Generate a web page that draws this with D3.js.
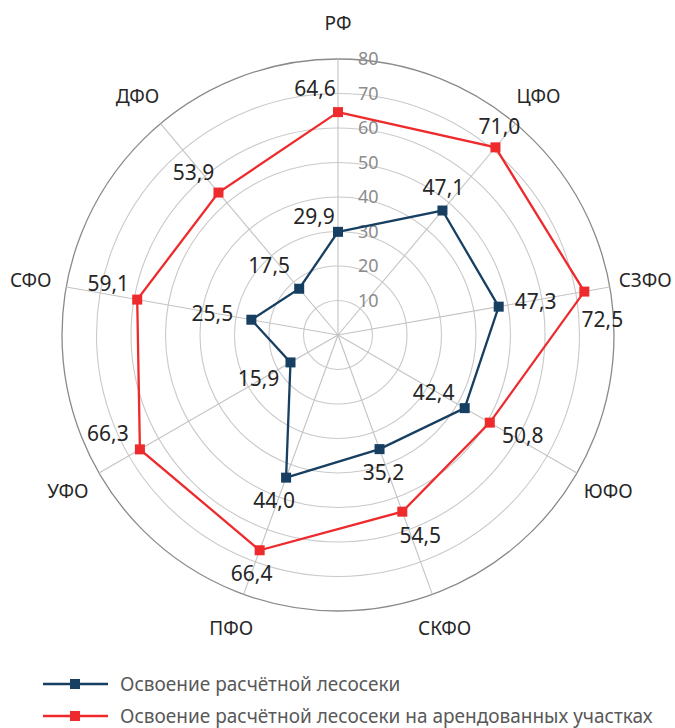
<!DOCTYPE html>
<html>
<head>
<meta charset="utf-8">
<script src="https://cdn.jsdelivr.net/npm/d3@7"></script>
<style>
  body { margin: 0; background: #fff; }
  svg { display: block; font-family: "Noto Sans", "Open Sans", sans-serif; }
</style>
</head>
<body>
<svg id="chart" width="675" height="728"></svg>
<script>
const regions = ['РФ', 'ЦФО', 'СЗФО', 'ЮФО', 'СКФО', 'ПФО', 'УФО', 'СФО', 'ДФО'];
const totalValues = [29.9, 47.1, 47.3, 42.4, 35.2, 44.0, 15.9, 25.5, 17.5];
const leasedValues = [64.6, 71.0, 72.5, 50.8, 54.5, 66.4, 66.3, 59.1, 53.9];
const ringTicks = [10, 20, 30, 40, 50, 60, 70, 80];
const seriesNames = ['Освоение расчётной лесосеки', 'Освоение расчётной лесосеки на арендованных участках'];

// label offsets from the marker, picked by eye
const totalLabelOffsets = [[-24, -15], [1, -23], [37, -5], [-31, -15], [4, 24], [-12, 23], [-32, 16], [-39, -6], [-30, -23]];
const leasedLabelOffsets = [[-23, -23], [4, -21], [18, 28], [33, 13], [18, 24], [-8, 23], [-32, -16], [-29, -16], [-25, -20]];

const cx = 338, cy = 335, radius = 276;
const blue = '#173f61', red = '#ee2a2d';

const svg = d3.select('#chart');
const g = svg.append('g').attr('transform', `translate(${cx}, ${cy})`);

const r = d3.scaleLinear().domain([0, 80]).range([0, radius]);
const angle = d3.scaleLinear().domain([0, regions.length]).range([0, 2 * Math.PI]);

const px = (i, v) => r(v) * Math.sin(angle(i));
const py = (i, v) => -r(v) * Math.cos(angle(i));

// rings
g.selectAll('.ring')
    .data(ringTicks)
    .join('circle')
    .attr('r', d => r(d))
    .attr('fill', 'none')
    .attr('stroke', d => d === 80 ? '#8a8a8a' : '#c9c9c9')
    .attr('stroke-width', d => d === 80 ? 1.3 : 1.1);

// spokes
g.selectAll('.spoke')
    .data(regions)
    .join('line')
    .attr('x1', 0).attr('y1', 0)
    .attr('x2', (d, i) => px(i, 80))
    .attr('y2', (d, i) => py(i, 80))
    .attr('stroke', '#c3c3c3')
    .attr('stroke-width', 1.1);

// ring tick labels
g.selectAll('.tick')
    .data(ringTicks)
    .join('text')
    .attr('x', 20)
    .attr('y', d => -r(d))
    .attr('dy', '0.35em')
    .attr('fill', '#8c8c8c')
    .style('font-size', '18px')
    .text(d => d);

// category labels
g.selectAll('.cat')
    .data(regions)
    .join('text')
    .attr('x', (d, i) => 312 * Math.sin(angle(i)))
    .attr('y', (d, i) => -312 * Math.cos(angle(i)))
    .attr('dy', '0.35em')
    .attr('text-anchor', 'middle')
    .attr('fill', '#262626')
    .style('font-size', '19px')
    .text(d => d);

const line = d3.lineRadial()
    .angle((d, i) => angle(i))
    .radius(d => r(d))
    .curve(d3.curveLinearClosed);

const series = [
    { values: leasedValues, color: red, offsets: leasedLabelOffsets },
    { values: totalValues, color: blue, offsets: totalLabelOffsets }
];

series.forEach(s => {
    g.append('path')
        .datum(s.values)
        .attr('d', line)
        .attr('fill', 'none')
        .attr('stroke', s.color)
        .attr('stroke-width', 2.3)
        .attr('stroke-linejoin', 'miter');

    g.selectAll(null)
        .data(s.values)
        .join('rect')
        .attr('x', (d, i) => px(i, d) - 5)
        .attr('y', (d, i) => py(i, d) - 5)
        .attr('width', 10)
        .attr('height', 10)
        .attr('fill', s.color);

    g.selectAll(null)
        .data(s.values)
        .join('text')
        .attr('x', (d, i) => px(i, d) + s.offsets[i][0])
        .attr('y', (d, i) => py(i, d) + s.offsets[i][1])
        .attr('dy', '0.35em')
        .attr('text-anchor', 'middle')
        .attr('fill', '#262626')
        .style('font-size', '21px')
        .text(d => d3.format('.1f')(d).replace('.', ','));
});

// legend
const legend = svg.append('g');
[blue, red].forEach((c, i) => {
    const y = 684 + i * 32;
    legend.append('line')
        .attr('x1', 43).attr('x2', 108)
        .attr('y1', y).attr('y2', y)
        .attr('stroke', c)
        .attr('stroke-width', 2.3);
    legend.append('rect')
        .attr('x', 70).attr('y', y - 5)
        .attr('width', 10).attr('height', 10)
        .attr('fill', c);
    legend.append('text')
        .attr('x', 120).attr('y', y)
        .attr('dy', '0.35em')
        .attr('fill', '#595959')
        .style('font-size', '19px')
        .text(seriesNames[i]);
});
</script>
</body>
</html>
